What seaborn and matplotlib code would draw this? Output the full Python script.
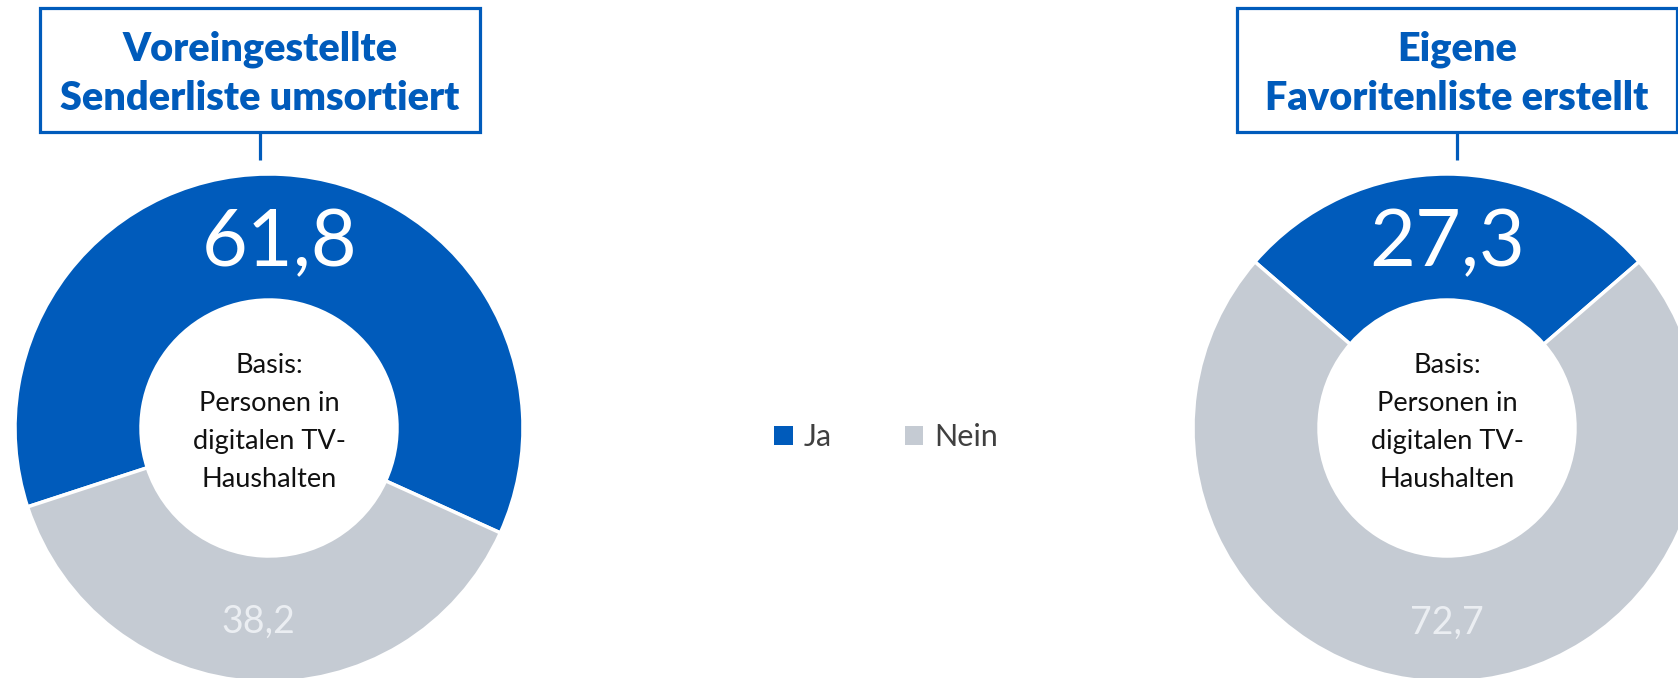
import matplotlib
matplotlib.use("Agg")
import numpy as np
import matplotlib.pyplot as plt
import seaborn as sns
from matplotlib.patches import Rectangle, Patch

sns.set_theme(style="white")
plt.rcParams['font.family'] = ['Lato', 'DejaVu Sans']

# ---- data ----
categories = ["Ja", "Nein"]
title_left = ["Voreingestellte", "Senderliste umsortiert"]
title_right = ["Eigene", "Favoritenliste erstellt"]
values_left = [61.8, 38.2]
values_right = [27.3, 72.7]
center_lines = ["Basis:", "Personen in", "digitalen TV-", "Haushalten"]

# ---- style ----
BLUE = "#005BBB"
GREY = "#C5CBD3"
colors = sns.color_palette([BLUE, GREY])
W, H = 1678, 678
R_OUT, RING = 254, 126
CY = 250

fig = plt.figure(figsize=(W / 100, H / 100), dpi=100)
fig.patch.set_facecolor("white")
ax = fig.add_axes([0, 0, 1, 1])

charts = [
    dict(values=values_left, title=title_left, cx=269, ja_mid=86.85, box_x=40, box_cx=260),
    dict(values=values_right, title=title_right, cx=1447, ja_mid=90.0, box_x=1237, box_cx=1457),
]

for ch in charts:
    vals = ch["values"]
    start = ch["ja_mid"] - vals[0] / sum(vals) * 180.0
    wedges, _ = ax.pie(vals, colors=colors, startangle=start, counterclock=True,
                       radius=R_OUT, center=(ch["cx"], CY),
                       wedgeprops=dict(width=RING, edgecolor="white", linewidth=2.5))
    r_lab = R_OUT - RING / 2
    for i, (w, v) in enumerate(zip(wedges, vals)):
        th = np.deg2rad((w.theta1 + w.theta2) / 2)
        x = ch["cx"] + r_lab * np.cos(th)
        y = CY + r_lab * np.sin(th)
        txt = f"{v:.1f}".replace(".", ",")
        if i == 0:
            ax.text(x, y, txt, ha="center", va="center_baseline", fontsize=57, color="white")
        else:
            ax.text(x, y, txt, ha="center", va="center_baseline", fontsize=27, color="#EBEEF2")
    # centre text
    for k, line in enumerate(center_lines):
        ax.text(ch["cx"], 305 - k * 38, line, ha="center", va="baseline",
                fontsize=19.5, color="#111111")
    # title box
    ax.add_patch(Rectangle((ch["box_x"], 546), 440, 124, fill=False, ec=BLUE, lw=2.3))
    ax.plot([ch["box_cx"], ch["box_cx"]], [518, 546], color=BLUE, lw=2.3, solid_capstyle="butt")
    ax.text(ch["box_cx"], 618, ch["title"][0], ha="center", va="baseline",
            fontsize=28.5, fontweight="heavy", color=BLUE)
    ax.text(ch["box_cx"], 568, ch["title"][1], ha="center", va="baseline",
            fontsize=28.5, fontweight="heavy", color=BLUE)

handles = [Patch(facecolor=c, edgecolor="none") for c in colors]
ax.legend(handles, categories, loc="center", bbox_to_anchor=(886, 241),
          bbox_transform=ax.transData, ncol=2, frameon=False, fontsize=22,
          handlelength=0.6, handleheight=0.6, handletextpad=0.35,
          columnspacing=2.4, labelcolor="#404040")

ax.set_xlim(0, W)
ax.set_ylim(0, H)
ax.set_aspect("equal")
ax.axis("off")

fig.savefig("out.png", dpi=100, facecolor="white")
